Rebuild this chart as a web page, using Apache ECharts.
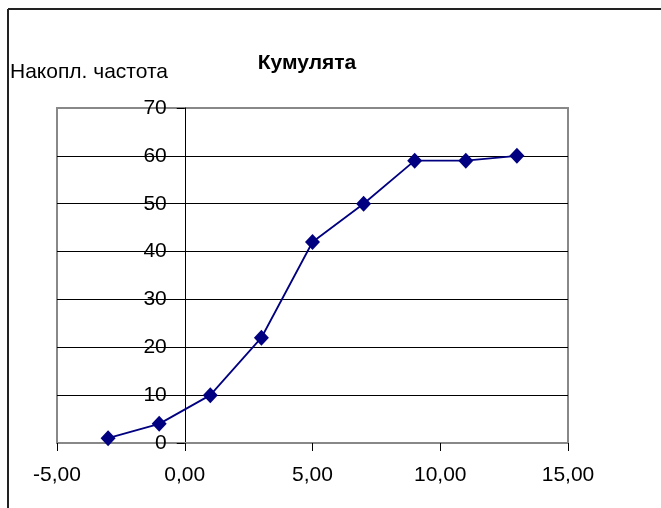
<!DOCTYPE html>
<html>
<head>
<meta charset="utf-8">
<script src="https://cdn.jsdelivr.net/npm/echarts@6/dist/echarts.min.js"></script>
<style>
  html, body { margin: 0; padding: 0; background: #fff; }
  #chart { width: 661px; height: 508px; }
</style>
</head>
<body>
<div id="chart"></div>
<script>
// Cumulative frequency (кумулята) by interval midpoint
const midpoints = [-3, -1, 1, 3, 5, 7, 9, 11, 13];
const cumulative = [1, 4, 10, 22, 42, 50, 59, 59, 60];

const chartTitle = 'Кумулята';
const yAxisTitle = 'Накопл. частота';

const fontFamily = 'Arial, "Liberation Sans", sans-serif';

const gridLeft = 57, gridRight = 93;
const xMin = -5, xMax = 15;
const plotWidth = 661 - gridLeft - gridRight;
// The value axis crosses the horizontal axis at x = 0
const yAxisShift = (0 - xMin) / (xMax - xMin) * plotWidth;

const chart = echarts.init(document.getElementById('chart'), null, { renderer: 'canvas' });

chart.setOption({
  animation: false,
  backgroundColor: '#ffffff',
  title: [
    {
      text: chartTitle,
      left: 307, top: 63, padding: 0, textAlign: 'center', textVerticalAlign: 'middle',
      textStyle: { fontFamily, fontSize: 21, fontWeight: 'bold', color: '#000' }
    },
    {
      text: yAxisTitle,
      left: 10, top: 72, padding: 0, textVerticalAlign: 'middle',
      textStyle: { fontFamily, fontSize: 21, fontWeight: 'normal', color: '#000' }
    }
  ],
  graphic: [
    { type: 'line', shape: { x1: 8, y1: 9, x2: 670, y2: 9 }, style: { stroke: '#222', lineWidth: 2 } },
    { type: 'line', shape: { x1: 8, y1: 9, x2: 8, y2: 520 }, style: { stroke: '#222', lineWidth: 2 } }
  ],
  grid: {
    left: gridLeft, top: 108, right: gridRight, bottom: 65,
    show: true, borderColor: '#888', borderWidth: 2, backgroundColor: 'transparent'
  },
  xAxis: {
    type: 'value', min: xMin, max: xMax, interval: 5,
    axisLine: { show: true, onZero: false, lineStyle: { color: '#888', width: 2 } },
    axisTick: { show: true, inside: false, length: 8, lineStyle: { color: '#000', width: 1 } },
    splitLine: { show: false },
    axisLabel: {
      margin: 22, color: '#000', fontFamily, fontSize: 21,
      formatter: v => v.toFixed(2).replace('.', ',')
    }
  },
  yAxis: {
    type: 'value', min: 0, max: 70, interval: 10,
    offset: -yAxisShift,
    axisLine: { show: true, onZero: false, lineStyle: { color: '#000', width: 1 } },
    axisTick: { show: true, inside: false, length: 8, lineStyle: { color: '#000', width: 1 } },
    splitLine: { show: true, showMinLine: false, showMaxLine: false, lineStyle: { color: '#000', width: 1 } },
    axisLabel: { margin: 18, color: '#000', fontFamily, fontSize: 21 }
  },
  series: [{
    type: 'line',
    data: midpoints.map((x, i) => [x, cumulative[i]]),
    symbol: 'diamond',
    symbolSize: [15, 16],
    showAllSymbol: true,
    lineStyle: { color: '#000080', width: 1.8 },
    itemStyle: { color: '#000080', borderWidth: 0 },
    z: 5
  }]
});
</script>
</body>
</html>
